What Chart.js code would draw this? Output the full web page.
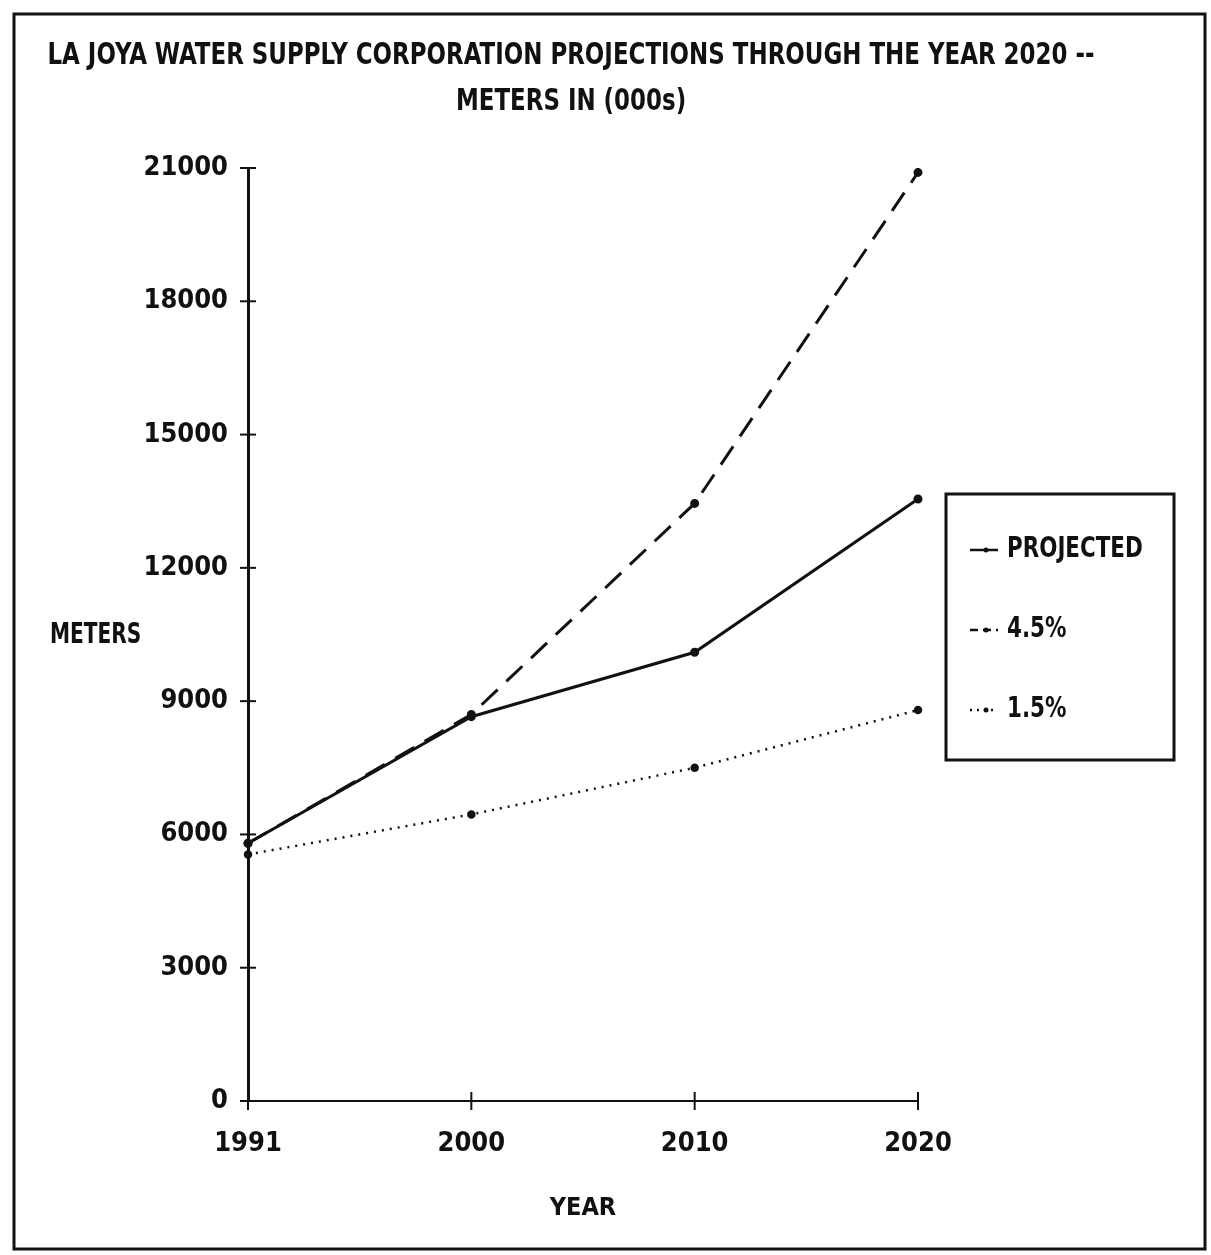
<!DOCTYPE html>
<html>
<head>
<meta charset="utf-8">
<script src="https://cdn.jsdelivr.net/npm/chart.js@4/dist/chart.umd.min.js"></script>
<style>
  html, body { margin: 0; padding: 0; background: #fff; }
  #wrap { width: 1211px; height: 1255px; }
</style>
</head>
<body>
<div id="wrap"><canvas id="myChart" width="1211" height="1255"></canvas></div>
<script>
// data
const years = ["1991", "2000", "2010", "2020"];
const projected = [5800, 8650, 10100, 13550];  // solid
const growth45 = [5800, 8700, 13450, 20900];   // dashed
const growth15 = [5550, 6450, 7500, 8800];     // dotted
const yMax = 21000;
const yStep = 3000;

const titleLines = ["LA JOYA WATER SUPPLY CORPORATION PROJECTIONS THROUGH THE YEAR 2020 --", "METERS IN (000s)"];
const FAMILY = '"DejaVu Sans Condensed", "DejaVu Sans", sans-serif';
const INK = "#111";

// narrow text: squeeze horizontally so it looks like the old plotter font
function narrowText(c, txt, x, y, sx, align) {
  c.save();
  c.translate(x, y);
  c.scale(sx, 1);
  c.textAlign = align;
  c.fillText(txt, 0, 0);
  c.restore();
}

// frame, title, horizontal y title, crossing ticks, boxed legend
const decor = {
  id: "decor",
  beforeDraw(chart) {
    const c = chart.ctx;
    c.save();
    c.fillStyle = "#fff";
    c.fillRect(0, 0, chart.width, chart.height);
    c.strokeStyle = INK;
    c.lineWidth = 3;
    c.strokeRect(14, 14, 1191, 1235);
    c.restore();
  },
  afterDraw(chart) {
    const c = chart.ctx;
    const xs = chart.scales.x, ys = chart.scales.y;
    c.save();
    c.fillStyle = INK;
    c.strokeStyle = INK;
    c.textBaseline = "middle";

    // title, squeezed to the width of the original line
    c.font = "bold 30px " + FAMILY;
    const w0 = c.measureText(titleLines[0]).width;
    const sx = 1047 / w0;
    narrowText(c, titleLines[0], 571, 56, sx, "center");
    narrowText(c, titleLines[1], 571, 102, sx, "center");

    // y title, not rotated
    c.font = "bold 28px " + FAMILY;
    narrowText(c, "METERS", 50, 636, 0.8, "left");

    // ticks that cross the axes
    c.lineWidth = 2;
    ys.ticks.forEach(t => {
      const y = ys.getPixelForValue(t.value);
      c.beginPath();
      c.moveTo(xs.left - 8, y);
      c.lineTo(xs.left + 8, y);
      c.stroke();
    });
    years.forEach((yr, i) => {
      const x = xs.getPixelForValue(i);
      c.beginPath();
      c.moveTo(x, ys.bottom - 9);
      c.lineTo(x, ys.bottom + 9);
      c.stroke();
    });

    // legend
    c.lineWidth = 3;
    c.strokeRect(946, 494, 228, 266);
    c.font = "bold 28px " + FAMILY;
    chart.data.datasets.forEach((ds, i) => {
      const y = 550 + i * 80;
      const dash = ds.borderDash || [];
      c.save();
      c.lineWidth = 2.5;
      c.setLineDash(dash.length === 0 ? [] : (dash[0] < 4 ? [2, 5] : [8, 5]));
      c.beginPath();
      c.moveTo(970, y);
      c.lineTo(998, y);
      c.stroke();
      c.restore();
      c.beginPath();
      c.arc(986, y, 2.5, 0, Math.PI * 2);
      c.fill();
      narrowText(c, ds.label, 1007, y, 0.85, "left");
    });
    c.restore();
  }
};

const ctx = document.getElementById("myChart").getContext("2d");
const chart = new Chart(ctx, {
  type: "line",
  data: {
    labels: years,
    datasets: [{
      label: "PROJECTED",
      data: projected,
      borderColor: INK,
      backgroundColor: INK,
      borderWidth: 3,
      borderDash: [],
      pointRadius: 3,
      fill: false
    }, {
      label: "4.5%",
      data: growth45,
      borderColor: INK,
      backgroundColor: INK,
      borderWidth: 3,
      borderDash: [22, 12],
      pointRadius: 3,
      fill: false
    }, {
      label: "1.5%",
      data: growth15,
      borderColor: INK,
      backgroundColor: INK,
      borderWidth: 2.5,
      borderDash: [2, 6],
      pointRadius: 3,
      fill: false
    }]
  },
  options: {
    responsive: false,
    animation: false,
    layout: { padding: { left: 20, top: 168, right: 293, bottom: 0 } },
    plugins: {
      legend: { display: false },
      title: { display: false },
      tooltip: { enabled: false }
    },
    scales: {
      x: {
        type: "category",
        offset: false,
        grid: { display: false },
        border: { display: true, color: INK, width: 2 },
        ticks: {
          color: INK,
          padding: 19,
          maxRotation: 0,
          font: { family: FAMILY, size: 27, weight: "bold" }
        },
        title: {
          display: true,
          text: "YEAR",
          color: INK,
          padding: { top: 0, bottom: 32 },
          font: { family: FAMILY, size: 25, weight: "bold" }
        },
        afterFit(scale) { scale.height = 154; }
      },
      y: {
        min: 0,
        max: yMax,
        grid: { display: false },
        border: { display: true, color: INK, width: 3 },
        ticks: {
          stepSize: yStep,
          color: INK,
          padding: 12,
          callback: v => String(v),
          font: { family: FAMILY, size: 27, weight: "bold" }
        },
        afterFit(scale) { scale.width = 228; }
      }
    }
  },
  plugins: [decor]
});
</script>
</body>
</html>
